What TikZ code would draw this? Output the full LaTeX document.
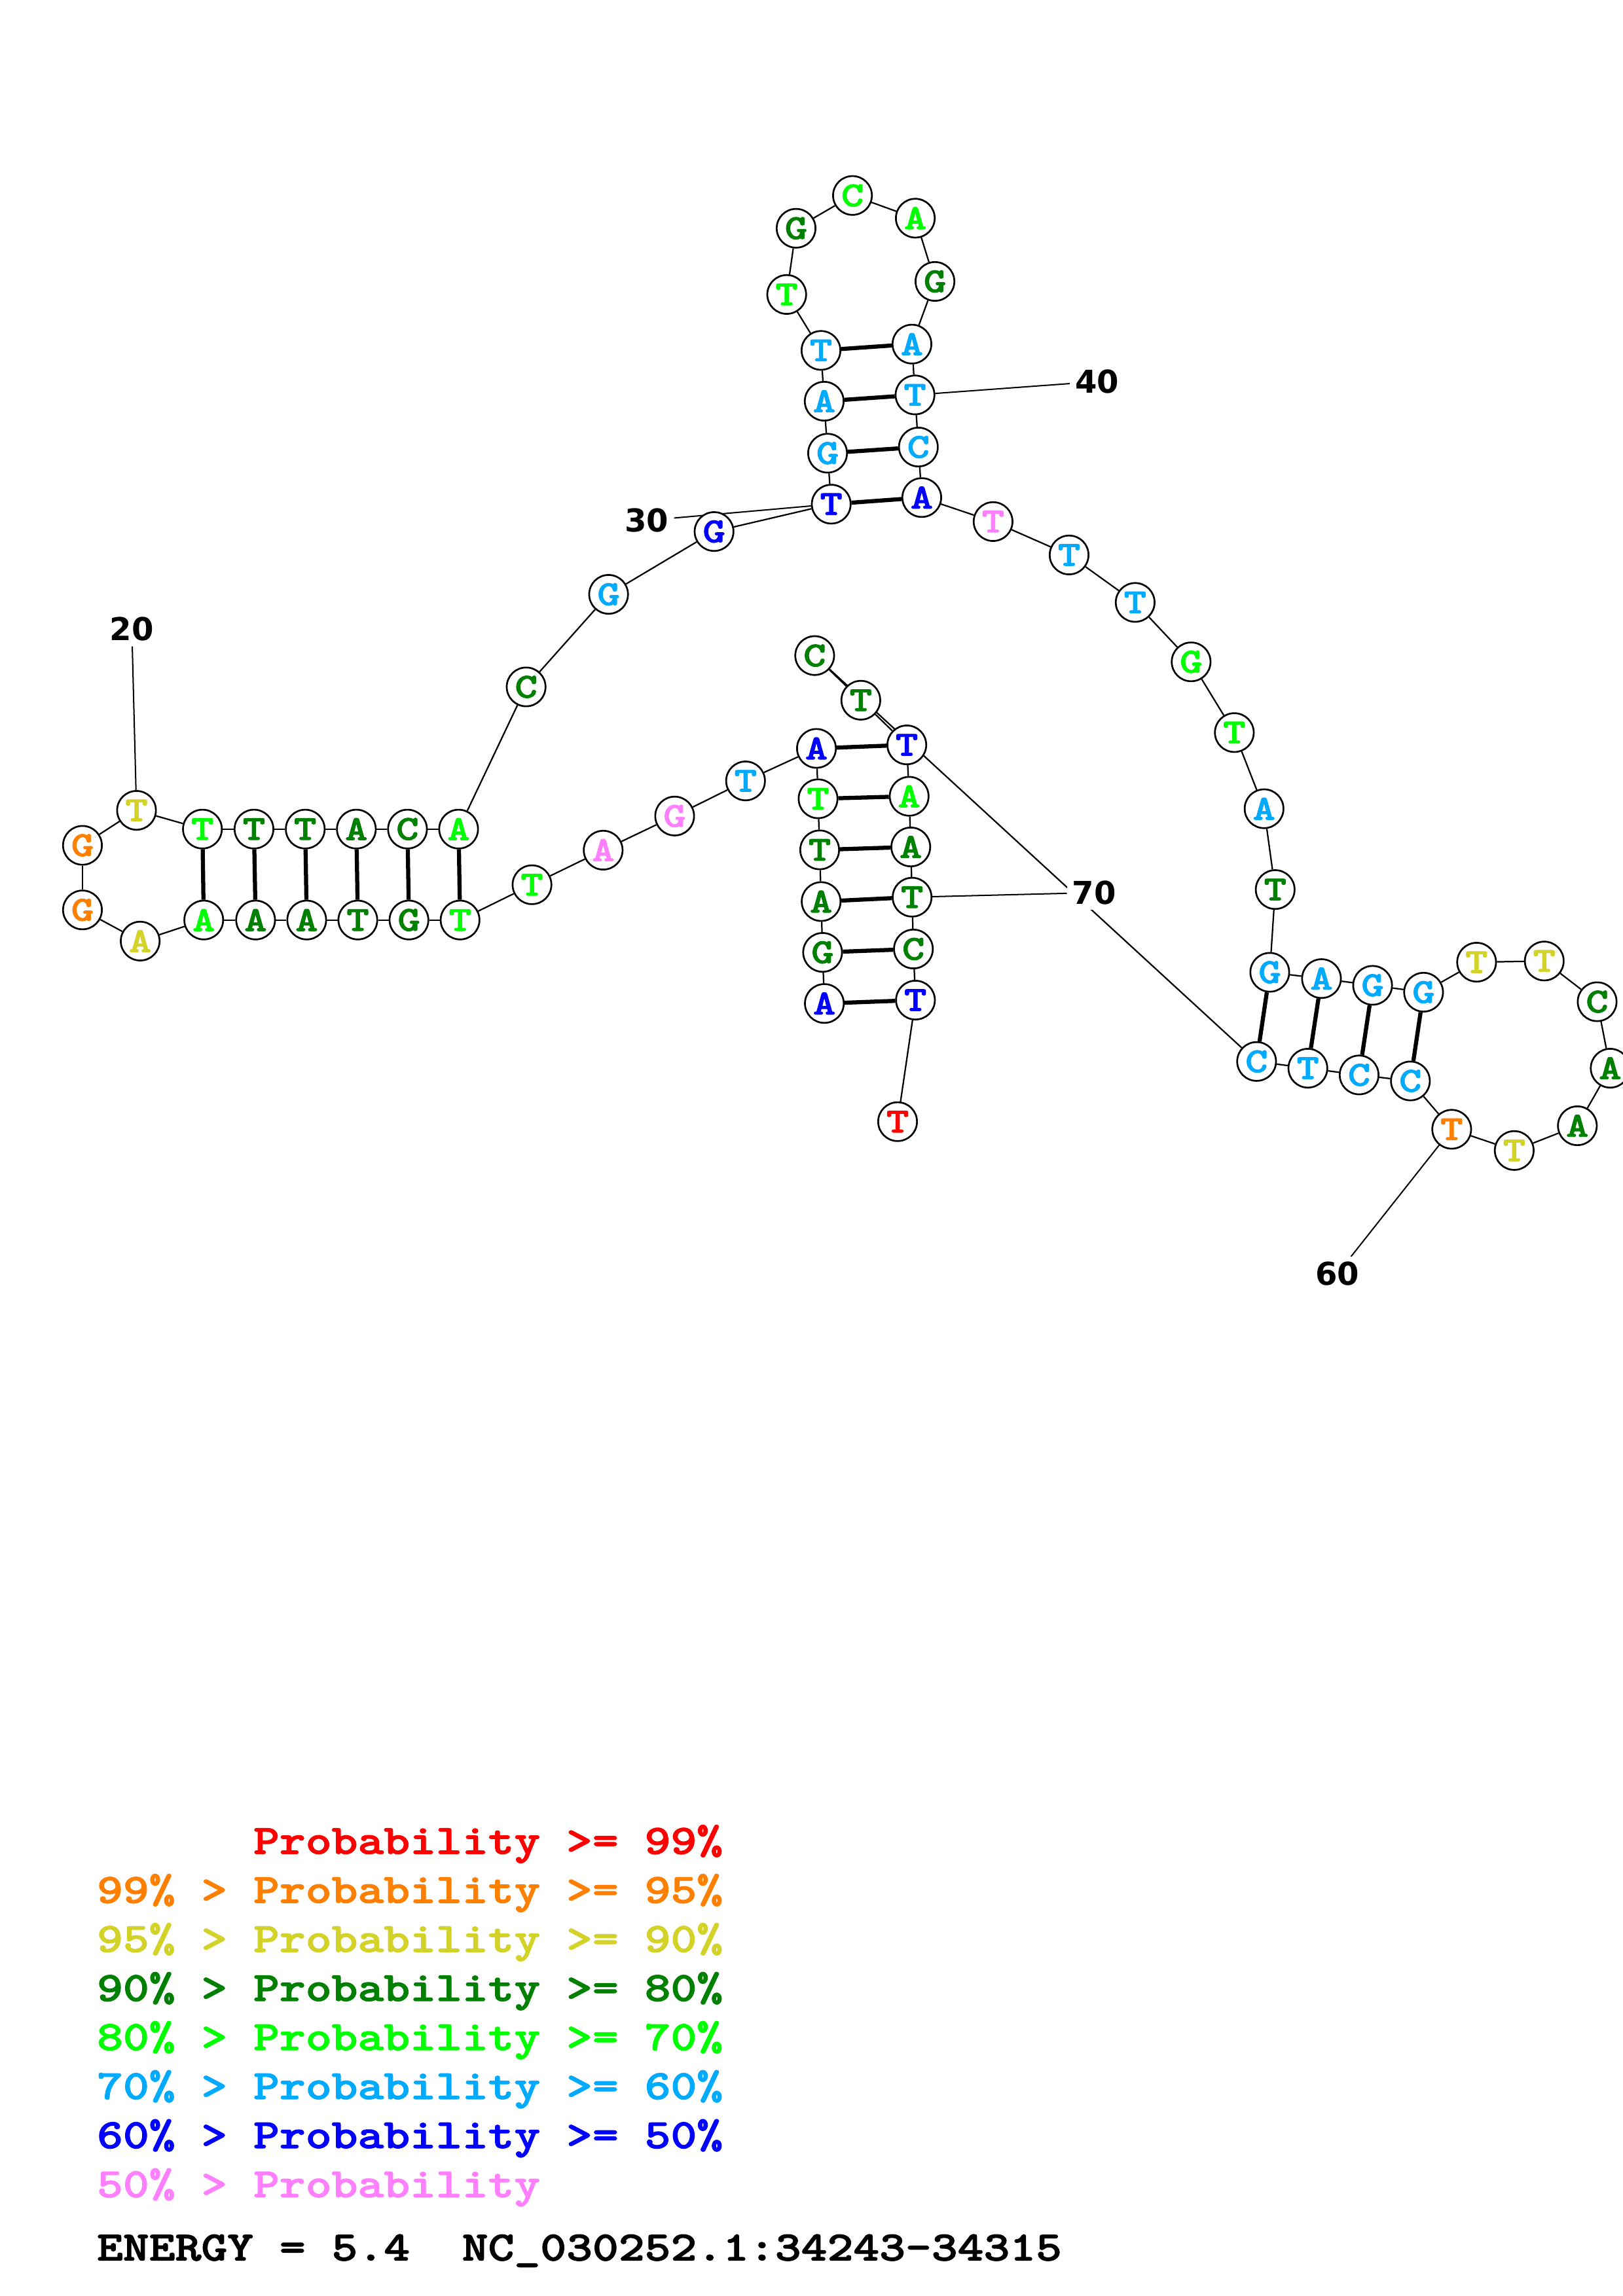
\documentclass[tikz,border=0pt]{standalone}
\usepackage{fontspec}
\usepackage{graphicx}
\usetikzlibrary{backgrounds}
\newfontfamily\numfont{DejaVu Sans}
\newfontfamily\courb{lmmonolt10-bold}[Extension=.otf,FakeBold=1.6]
\newcommand\ntx[1]{\scalebox{1.22}[1]{\fontsize{24pt}{24pt}\selectfont\courb #1}}
\newcommand\lgx[1]{\scalebox{1.19}[1]{\fontsize{28.5pt}{30pt}\selectfont\courb #1}}
\definecolor{pr}{RGB}{255,0,0}
\definecolor{po}{RGB}{255,128,0}
\definecolor{py}{RGB}{210,210,40}
\definecolor{pdg}{RGB}{0,128,0}
\definecolor{pg}{RGB}{0,255,0}
\definecolor{pc}{RGB}{0,170,255}
\definecolor{pb}{RGB}{0,0,255}
\definecolor{pp}{RGB}{255,128,255}
\begin{document}
\begin{tikzpicture}[x=1pt,y=-1pt,
  nt/.style={circle,draw,line width=1.2pt,minimum size=26.5pt,inner sep=0pt,fill=white},
  bb/.style={line width=1pt},
  bp/.style={line width=2.8pt},
  ll/.style={line width=0.9pt},
  numlab/.style={fill=white,inner sep=3.5pt,font=\numfont\bfseries\fontsize{21.5pt}{21.5pt}\selectfont},
  lg/.style={anchor=base west,inner sep=0pt}]
\useasboundingbox (0,0) rectangle (1108,1568);
\begin{scope}[on background layer]
  \fill[white] (0,0) rectangle (1108,1568);
\end{scope}
% nucleotides
\foreach \i/\x/\y/\b/\c in {
  1/562.8/685.3/A/pb, 2/561.6/650.4/G/pdg, 3/560.6/615.7/A/pdg, 4/559.6/580.4/T/pdg,
  5/558.5/545.5/T/pg, 6/557.4/511.1/A/pb, 7/509/533.3/T/pc, 8/460.6/557.3/G/pp,
  9/411.8/580.6/A/pp, 10/363.2/604.2/T/pg, 11/314.1/628.3/T/pg, 12/279.2/628.3/G/pdg,
  13/244.3/628.3/T/pdg, 14/209.4/628.3/A/pdg, 15/174.5/628.3/A/pdg, 16/139.1/628.3/A/pg,
  17/95.7/642.7/A/py, 18/56.3/621.4/G/po, 19/56.3/577.3/G/po, 20/93.2/553.4/T/py,
  21/138.2/566.2/T/pg, 22/173.4/566.2/T/pdg, 23/208.4/566.2/T/pdg, 24/243.3/566.2/A/pdg,
  25/278.2/566.2/C/pdg, 26/313.1/566.2/A/pg, 27/359.2/469.1/C/pdg, 28/415.5/405.9/G/pc,
  29/487.5/363/G/pb, 30/567.5/344.3/T/pb, 31/565/309.5/G/pc, 32/562.7/274/A/pc,
  33/560.5/239.3/T/pc, 34/537.1/201.1/T/pg, 35/543.5/155.9/G/pdg, 36/582/133.5/C/pg,
  37/624.9/149/A/pg, 38/638.3/192.2/G/pdg, 39/622.6/235/A/pc, 40/624.7/269.7/T/pc,
  41/627/305.3/C/pc, 42/629.3/339.8/A/pb, 43/678/356.2/T/pp, 44/729.9/379/T/pc,
  45/775/411.4/T/pc, 46/813.2/452/G/pg, 47/842.7/500.3/T/pg, 48/863/552.3/A/pc,
  49/870.6/607.5/T/pdg, 50/866.9/664/G/pc, 51/902.2/668.3/A/pc, 52/937.1/672.9/G/pc,
  53/971.9/677.6/G/pc, 54/1008.1/657.1/T/py, 55/1054.3/656.3/T/py, 56/1090.4/684.1/C/pdg,
  57/1099.3/729.5/A/pdg, 58/1076.9/768.8/A/pdg, 59/1033.8/785.7/T/py, 60/991.1/771.2/T/po,
  61/962.9/738.2/C/pc, 62/927.9/734.1/C/pc, 63/892.9/729.5/T/pc, 64/857.9/724.9/C/pc,
  65/556.2/447.7/C/pdg, 66/587.7/478.2/T/pdg, 67/619.1/508.7/T/pb, 68/620.7/543.8/A/pg,
  69/621.8/578.4/A/pdg, 70/622.7/612.7/T/pdg, 71/623.6/648.1/C/pdg, 72/625/683/T/pb,
  73/612.8/766/T/pr}
  \node[nt,text=\c] (n\i) at (\x,\y) {\ntx{\b}};
% position labels
\node[numlab] (l20) at (90,429.6) {20};
\node[numlab] (l30) at (441.6,355.4) {30};
\node[numlab] (l40) at (749,260.6) {40};
\node[numlab] (l60) at (913,870) {60};
\node[numlab] (l70) at (747,609.6) {70};
% connectors
\begin{scope}[on background layer]
  \foreach \i [evaluate=\i as \j using int(\i+1)] in {1,...,72}
    \draw[bb] (n\i) -- (n\j);
  \foreach \a/\b in {1/72,2/71,3/70,4/69,5/68,6/67,11/26,12/25,13/24,14/23,15/22,16/21,
                     30/42,31/41,32/40,33/39,50/64,51/63,52/62,53/61}
    \draw[bp] (n\a) -- (n\b);
  \foreach \a in {20,30,40,60,70}
    \draw[ll] (n\a) -- (l\a);
\end{scope}
% legend
\node[lg,text=pr] (lg1) at (66,1266) {\lgx{\phantom{99\% > }Probability >= 99\%}};
\node[lg,text=po] (lg2) at (66,1299.5) {\lgx{99\% > Probability >= 95\%}};
\node[lg,text=py] (lg3) at (66,1333) {\lgx{95\% > Probability >= 90\%}};
\node[lg,text=pdg] (lg4) at (66,1366.5) {\lgx{90\% > Probability >= 80\%}};
\node[lg,text=pg] (lg5) at (66,1400) {\lgx{80\% > Probability >= 70\%}};
\node[lg,text=pc] (lg6) at (66,1433.5) {\lgx{70\% > Probability >= 60\%}};
\node[lg,text=pb] (lg7) at (66,1467) {\lgx{60\% > Probability >= 50\%}};
\node[lg,text=pp] (lg8) at (66,1500.5) {\lgx{50\% > Probability}};
\node[lg] (en) at (66,1543.7) {\lgx{ENERGY = 5.4~~NC\_030252.1:34243-34315}};
\end{tikzpicture}
\end{document}
